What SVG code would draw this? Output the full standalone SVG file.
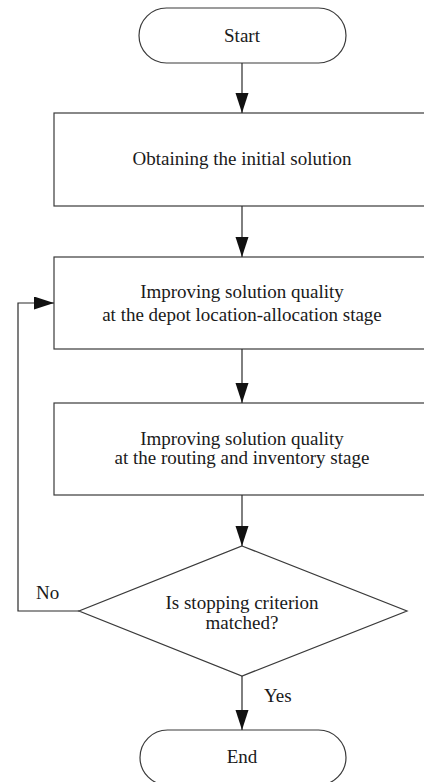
<svg xmlns="http://www.w3.org/2000/svg" width="424" height="782" viewBox="0 0 424 782">
<defs>
<style>
.shape{fill:#fff;stroke:#3a3a3a;stroke-width:1.2}
.t{font-family:"Liberation Serif","Times New Roman",serif;font-size:19px;fill:#1a1a1a;text-anchor:middle}
.lbl{font-family:"Liberation Serif","Times New Roman",serif;font-size:19px;fill:#1a1a1a}
.c{fill:none;stroke:#2a2a2a;stroke-width:1.2}
</style>
<marker id="ah" markerUnits="userSpaceOnUse" markerWidth="22" markerHeight="14" refX="20" refY="6.5" orient="auto">
<path d="M0,0 L20,6.5 L0,13 Z" fill="#111"/>
</marker>
</defs>
<g id="start">
<rect class="shape" x="139" y="8" width="207" height="55" rx="27.5" ry="27.5"/>
<text class="t" x="242" y="42">Start</text>
</g>
<g id="init">
<rect class="shape" x="54" y="113" width="376" height="93"/>
<text class="t" x="242" y="165">Obtaining the initial solution</text>
</g>
<g id="depot">
<rect class="shape" x="54" y="257" width="376" height="92"/>
<text class="t" x="242" y="298">Improving solution quality</text>
<text class="t" x="242" y="321">at the depot location-allocation stage</text>
</g>
<g id="routing">
<rect class="shape" x="54" y="403" width="376" height="92"/>
<text class="t" x="242" y="445">Improving solution quality</text>
<text class="t" x="242" y="464">at the routing and inventory stage</text>
</g>
<g id="decision">
<polygon class="shape" points="242,546 407,611 242,676 79,611"/>
<text class="t" x="242" y="609">Is stopping criterion</text>
<text class="t" x="242" y="629">matched?</text>
</g>
<g id="end">
<rect class="shape" x="140" y="730" width="206" height="55" rx="27.5" ry="27.5"/>
<text class="t" x="242" y="763">End</text>
</g>
<g id="connectors">
<line class="c" x1="242" y1="63" x2="242" y2="113" marker-end="url(#ah)"/>
<line class="c" x1="242" y1="206" x2="242" y2="257" marker-end="url(#ah)"/>
<line class="c" x1="242" y1="349" x2="242" y2="403" marker-end="url(#ah)"/>
<line class="c" x1="242" y1="495" x2="242" y2="546" marker-end="url(#ah)"/>
<polyline class="c" points="79,611 18,611 18,303 54,303" marker-end="url(#ah)"/>
<line class="c" x1="242" y1="676" x2="242" y2="730" marker-end="url(#ah)"/>
<text class="lbl" x="36" y="599">No</text>
<text class="lbl" x="264" y="702">Yes</text>
</g>
</svg>
